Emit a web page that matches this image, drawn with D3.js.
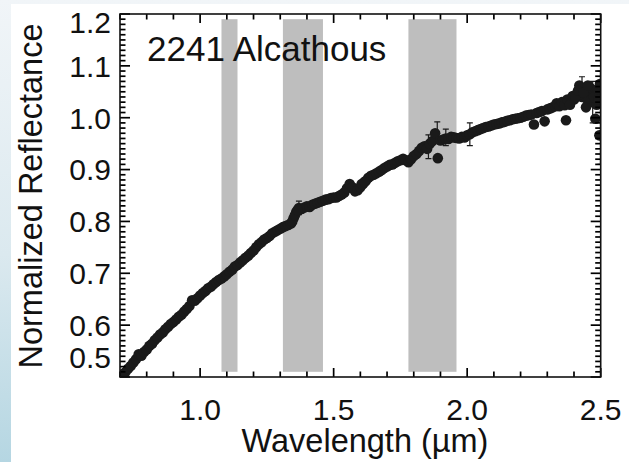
<!DOCTYPE html>
<html>
<head>
<meta charset="utf-8">
<script src="https://cdn.jsdelivr.net/npm/d3@7"></script>
<style>
  html, body { margin: 0; padding: 0; background: #fff; }
  svg { display: block; }
  text { font-family: "Liberation Sans", Arial, Helvetica, sans-serif; fill: #111; }
</style>
</head>
<body>
<div id="chart"></div>
<script>
// spectrum of 2241 Alcathous (wavelength in µm, normalized reflectance)
const wavelength = [
  0.70, 0.71, 0.72, 0.73, 0.74, 0.75, 0.76, 0.77, 0.78, 0.79,
  0.80, 0.81, 0.82, 0.83, 0.84, 0.85, 0.86, 0.87, 0.88, 0.89,
  0.90, 0.91, 0.92, 0.93, 0.94, 0.95, 0.96, 0.97, 0.98, 0.99,
  1.00, 1.01, 1.02, 1.03, 1.04, 1.05, 1.06, 1.07, 1.08, 1.09,
  1.10, 1.11, 1.12, 1.13, 1.14, 1.15, 1.16, 1.17, 1.18, 1.19,
  1.20, 1.21, 1.22, 1.23, 1.24, 1.25, 1.26, 1.27, 1.28, 1.29,
  1.30, 1.31, 1.32, 1.33, 1.34, 1.35, 1.36, 1.37, 1.38, 1.39,
  1.40, 1.41, 1.42, 1.43, 1.44, 1.45, 1.46, 1.47, 1.48, 1.49,
  1.50, 1.51, 1.52, 1.53, 1.54, 1.55, 1.56, 1.57, 1.58, 1.59,
  1.60, 1.61, 1.62, 1.63, 1.64, 1.65, 1.66, 1.67, 1.68, 1.69,
  1.70, 1.71, 1.72, 1.73, 1.74, 1.75, 1.76, 1.77, 1.78, 1.79,
  1.80, 1.81, 1.82, 1.83, 1.84, 1.85, 1.86, 1.87, 1.88, 1.89,
  1.90, 1.91, 1.92, 1.93, 1.94, 1.95, 1.96, 1.97, 1.98, 1.99,
  2.00, 2.01, 2.02, 2.03, 2.04, 2.05, 2.06, 2.07, 2.08, 2.09,
  2.10, 2.11, 2.12, 2.13, 2.14, 2.15, 2.16, 2.17, 2.18, 2.19,
  2.20, 2.21, 2.22, 2.23, 2.24, 2.25, 2.26, 2.27, 2.28, 2.29,
  2.30, 2.31, 2.32, 2.33, 2.34, 2.35, 2.36, 2.37, 2.38, 2.39,
  2.40, 2.41, 2.42, 2.43, 2.44, 2.45, 2.46, 2.47, 2.48, 2.49,
  2.50, 2.445, 2.465, 2.485, 2.495, 2.425, 2.455,
  2.335, 2.345, 2.355, 2.365, 2.375, 2.385, 2.395, 2.405, 2.415, 2.435,
  2.452, 2.475, 2.488, 2.492, 2.497, 1.345, 1.355, 1.365, 1.605, 1.615
];
const reflectance = [
  0.500, 0.505, 0.509, 0.516, 0.521, 0.528, 0.534, 0.544, 0.541, 0.548,
  0.553, 0.560, 0.564, 0.571, 0.576, 0.582, 0.586, 0.592, 0.597, 0.602,
  0.606, 0.611, 0.616, 0.620, 0.626, 0.631, 0.637, 0.648, 0.647, 0.652,
  0.657, 0.662, 0.666, 0.671, 0.674, 0.679, 0.683, 0.687, 0.690, 0.694,
  0.698, 0.703, 0.707, 0.713, 0.716, 0.721, 0.725, 0.730, 0.734, 0.739,
  0.744, 0.750, 0.756, 0.760, 0.765, 0.768, 0.772, 0.777, 0.780, 0.783,
  0.786, 0.789, 0.791, 0.793, 0.796, 0.806, 0.818, 0.826, 0.824, 0.827,
  0.829, 0.828, 0.832, 0.834, 0.836, 0.838, 0.840, 0.842, 0.843, 0.845,
  0.846, 0.846, 0.849, 0.852, 0.856, 0.864, 0.872, 0.866, 0.858, 0.860,
  0.866, 0.872, 0.878, 0.884, 0.888, 0.890, 0.893, 0.896, 0.899, 0.903,
  0.906, 0.909, 0.910, 0.913, 0.916, 0.918, 0.921, 0.918, 0.914, 0.920,
  0.926, 0.930, 0.936, 0.942, 0.945, 0.940, 0.950, 0.955, 0.970, 0.922,
  0.956, 0.958, 0.960, 0.959, 0.963, 0.962, 0.961, 0.960, 0.963, 0.962,
  0.966, 0.968, 0.972, 0.974, 0.976, 0.978, 0.980, 0.982, 0.983, 0.985,
  0.987, 0.988, 0.989, 0.991, 0.992, 0.994, 0.995, 0.997, 0.998, 0.999,
  1.000, 1.002, 1.004, 1.005, 1.006, 0.987, 1.009, 1.011, 1.013, 0.993,
  1.016, 1.018, 1.020, 1.022, 1.025, 1.027, 1.028, 0.995, 1.030, 1.033,
  1.035, 1.045, 1.062, 1.040, 1.050, 1.035, 1.058, 1.030, 0.998, 1.045,
  1.060, 1.020, 1.040, 1.025, 0.966, 1.048, 1.038,
  1.028, 1.022, 1.030, 1.024, 1.035, 1.025, 1.042, 1.040, 1.052, 1.048,
  1.062, 1.040, 1.055, 1.035, 1.065, 0.800, 0.812, 0.822, 0.872, 0.876
];

// points whose error bars stick out: [wavelength, reflectance, sigma]
const errorBars = [
  [1.37, 0.826, 0.013],
  [1.855, 0.944, 0.023],
  [1.888, 0.973, 0.019],
  [1.92, 0.962, 0.016],
  [2.01, 0.968, 0.022],
  [2.43, 1.063, 0.016],
  [2.47, 1.030, 0.040],
  [2.499, 1.000, 0.090]
];

// grey telluric bands [start, end] in µm
const bands = [[1.08, 1.14], [1.31, 1.46], [1.78, 1.96]];
const bandRange = [0.51, 1.19];

const xTickValues = [1.0, 1.5, 2.0, 2.5];
const xTickLabels = ["1.0", "1.5", "2.0", "2.5"];
const yTickValues = [0.5, 0.6, 0.7, 0.8, 0.9, 1.0, 1.1, 1.2];
const yTickLabels = ["0.5", "0.6", "0.7", "0.8", "0.9", "1.0", "1.1", "1.2"];

const W = 629, H = 462;
const m = { left: 120, right: 600.7, top: 14, bottom: 377 };

const svg = d3.select("#chart").append("svg")
  .attr("width", W)
  .attr("height", H);

// slide background behind the figure
const defs = svg.append("defs");
const grad = defs.append("linearGradient")
  .attr("id", "bg").attr("x1", 0).attr("y1", 0).attr("x2", 0).attr("y2", 1);
grad.append("stop").attr("offset", "0%").attr("stop-color", "#f1f5f8");
grad.append("stop").attr("offset", "55%").attr("stop-color", "#dbe9ef");
grad.append("stop").attr("offset", "100%").attr("stop-color", "#b5d6e2");
defs.append("clipPath").attr("id", "plotClip")
  .append("rect")
  .attr("x", m.left).attr("y", m.top)
  .attr("width", m.right - m.left).attr("height", m.bottom - m.top);

svg.append("rect").attr("width", W).attr("height", H).attr("fill", "url(#bg)");
svg.append("rect").attr("x", 11).attr("y", 4).attr("width", W - 11).attr("height", H - 4).attr("fill", "#fff");

const x = d3.scaleLinear().domain([0.7, 2.5]).range([m.left, m.right]);
const y = d3.scaleLinear().domain([0.5, 1.2]).range([m.bottom, m.top]);

// bands
svg.append("g").selectAll("rect")
  .data(bands)
  .join("rect")
  .attr("x", d => x(d[0]))
  .attr("width", d => x(d[1]) - x(d[0]))
  .attr("y", y(bandRange[1]))
  .attr("height", y(bandRange[0]) - y(bandRange[1]))
  .attr("fill", "#bebebe");

// object name
svg.append("text")
  .attr("x", 147)
  .attr("y", 61)
  .attr("font-size", 35)
  .text("2241 Alcathous");

const plot = svg.append("g").attr("clip-path", "url(#plotClip)");

// error bars
const eb = plot.append("g")
  .attr("stroke", "#1a1a1a")
  .attr("stroke-width", 1.2)
  .selectAll("g")
  .data(errorBars)
  .join("g");
eb.append("line")
  .attr("x1", d => x(d[0])).attr("x2", d => x(d[0]))
  .attr("y1", d => y(d[1] - d[2])).attr("y2", d => y(d[1] + d[2]));
eb.append("line")
  .attr("x1", d => x(d[0]) - 3).attr("x2", d => x(d[0]) + 3)
  .attr("y1", d => y(d[1] + d[2])).attr("y2", d => y(d[1] + d[2]));
eb.append("line")
  .attr("x1", d => x(d[0]) - 3).attr("x2", d => x(d[0]) + 3)
  .attr("y1", d => y(d[1] - d[2])).attr("y2", d => y(d[1] - d[2]));

// data points
const points = wavelength.map((w, i) => [w, reflectance[i]]);
plot.append("g").selectAll("circle")
  .data(points)
  .join("circle")
  .attr("cx", d => x(d[0]))
  .attr("cy", d => y(d[1]))
  .attr("r", 5.3)
  .attr("fill", "#1a1a1a");

// inward ticks on all four sides
const isMajor = (list, v) => list.some(t => Math.abs(t - v) < 1e-6);
const xTickData = x.ticks(18).map(v => ({ v, len: isMajor(xTickValues, v) ? 9 : 5.5 }));
const yTickData = y.ticks(70).map(v => ({ v, len: isMajor(yTickValues, v) ? 10 : 5.5 }));
const tickG = svg.append("g").attr("stroke", "#000").attr("stroke-width", 1.7);
[m.bottom, m.top].forEach(edge => {
  const dir = edge === m.bottom ? -1 : 1;
  tickG.append("g").selectAll("line").data(xTickData).join("line")
    .attr("x1", d => x(d.v)).attr("x2", d => x(d.v))
    .attr("y1", edge).attr("y2", d => edge + dir * d.len);
});
[m.left, m.right].forEach(edge => {
  const dir = edge === m.left ? 1 : -1;
  tickG.append("g").selectAll("line").data(yTickData).join("line")
    .attr("y1", d => y(d.v)).attr("y2", d => y(d.v))
    .attr("x1", edge).attr("x2", d => edge + dir * d.len);
});

// frame
svg.append("rect")
  .attr("x", m.left).attr("y", m.top)
  .attr("width", m.right - m.left).attr("height", m.bottom - m.top)
  .attr("fill", "none")
  .attr("stroke", "#111")
  .attr("stroke-width", 1.6);

// tick labels
svg.append("g").selectAll("text")
  .data(xTickValues)
  .join("text")
  .attr("x", d => x(d))
  .attr("y", 419.5)
  .attr("text-anchor", "middle")
  .attr("font-size", 30)
  .text((d, i) => xTickLabels[i]);

svg.append("g").selectAll("text")
  .data(yTickValues)
  .join("text")
  .attr("x", 111)
  .attr("y", d => Math.min(Math.max(y(d), m.top + 8.5), m.bottom - 19.5))
  .attr("dy", "0.36em")
  .attr("text-anchor", "end")
  .attr("font-size", 30)
  .text((d, i) => yTickLabels[i]);

// axis titles
svg.append("text")
  .attr("x", 365)
  .attr("y", 452)
  .attr("text-anchor", "middle")
  .attr("font-size", 32.5)
  .text("Wavelength (\u00b5m)");

svg.append("text")
  .attr("transform", `translate(41.5,196) rotate(-90)`)
  .attr("text-anchor", "middle")
  .attr("font-size", 32.5)
  .text("Normalized Reflectance");
</script>
</body>
</html>
